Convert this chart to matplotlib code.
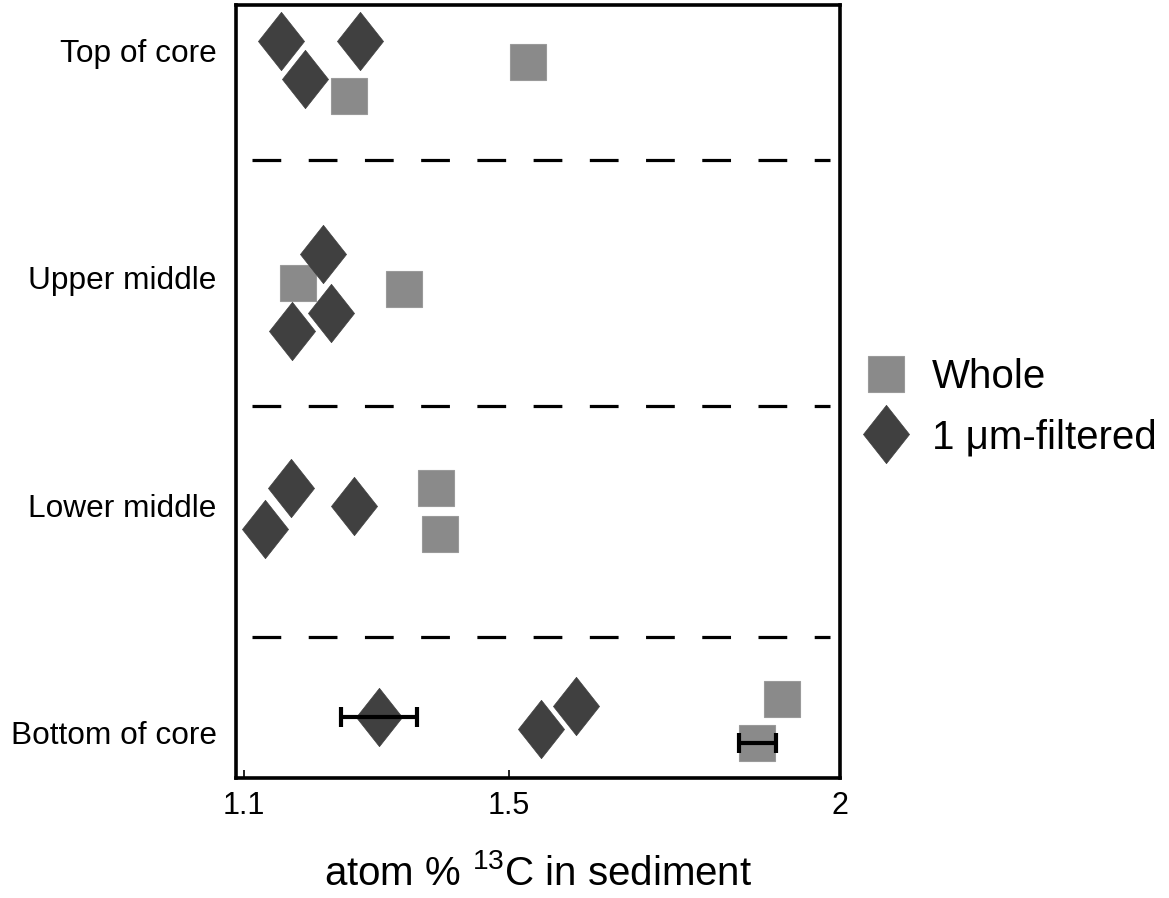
import numpy as np
import matplotlib
matplotlib.use("Agg")
import matplotlib.pyplot as plt
from matplotlib.path import Path

plt.rcParams['font.family'] = ['Liberation Sans', 'DejaVu Sans']
plt.rcParams['mathtext.fontset'] = 'custom'
plt.rcParams['mathtext.rm'] = 'Liberation Sans'

# categories, top to bottom on the chart
categories = ['Top of core', 'Upper middle', 'Lower middle', 'Bottom of core']
cat_pos = [3, 2, 1, 0]

# whole sediment (squares): x value, vertical offset from category line
whole_cat = [0, 0, 1, 1, 2, 2, 3, 3]
whole_x = [1.529, 1.259, 1.182, 1.342, 1.390, 1.396, 1.912, 1.875]
whole_off = [-0.053, -0.202, -0.022, -0.048, 0.075, -0.127, 0.149, -0.044]
whole_err = [0, 0, 0, 0, 0, 0, 0, 0.028]

# 1 um-filtered (diamonds)
filt_cat = [0, 0, 0, 1, 1, 1, 2, 2, 2, 3, 3, 3]
filt_x = [1.156, 1.275, 1.192, 1.219, 1.231, 1.173, 1.171, 1.132, 1.266, 1.304, 1.549, 1.602]
filt_off = [0.04, 0.04, -0.127, 0.105, -0.154, -0.233, 0.075, -0.105, -0.004, 0.07, 0.018, 0.119]
filt_err = [0, 0, 0, 0, 0, 0, 0, 0, 0, 0.057, 0, 0]

# separator positions between layers
separators = [2.517, 1.438, 0.42]

xticks = [1.1, 1.5, 2.0]
xticklabels = ['1.1', '1.5', '2']

diamond = Path([(0, 1), (0.79, 0), (0, -1), (-0.79, 0), (0, 1)],
               [Path.MOVETO, Path.LINETO, Path.LINETO, Path.LINETO, Path.CLOSEPOLY])

fig = plt.figure(figsize=(11.69, 8.98), dpi=100)
ax = fig.add_axes([0.2019, 0.1336, 0.5167, 0.8608])

wy = [cat_pos[c] + o for c, o in zip(whole_cat, whole_off)]
fy = [cat_pos[c] + o for c, o in zip(filt_cat, filt_off)]

ax.plot(whole_x, wy, ls='none', marker='s', ms=26, color='#8a8a8a',
        mec='#9a9a9a', mew=0.8, label='Whole', zorder=3)
ax.plot(filt_x, fy, ls='none', marker=diamond, ms=42, color='#404040',
        mec='#404040', mew=0.5, label='1 \u03bcm-filtered', zorder=3)

# error bars where given
for x, y, e in zip(whole_x + filt_x, wy + fy, whole_err + filt_err):
    if e > 0:
        ax.errorbar(x, y, xerr=e, fmt='none', ecolor='black', elinewidth=3,
                    capsize=7, capthick=3, zorder=4)

for s in separators:
    ax.hlines(s, 1.112, 1.985, colors='black', lw=2.3, linestyles=(0, (9.0, 8.6)))

ax.set_xlim(1.088, 2.0)
ax.set_ylim(-0.198, 3.198)
ax.set_xticks(xticks)
ax.set_xticklabels(xticklabels, fontsize=22)
ax.set_yticks(cat_pos)
ax.set_yticklabels(categories, fontsize=22.8)
ax.tick_params(axis='x', direction='in', length=6, width=1.2, pad=9)
ax.tick_params(axis='y', length=0, pad=14)
for sp in ax.spines.values():
    sp.set_linewidth(2.6)

ax.set_xlabel('atom % $^{13}$C in sediment', fontsize=29, labelpad=24)

ax.legend(loc='center left', bbox_to_anchor=(1.016, 0.48), frameon=False,
          fontsize=29, handletextpad=0.65, labelspacing=0.55, borderaxespad=0,
          handlelength=1.0)

fig.savefig('out.png', dpi=100)
